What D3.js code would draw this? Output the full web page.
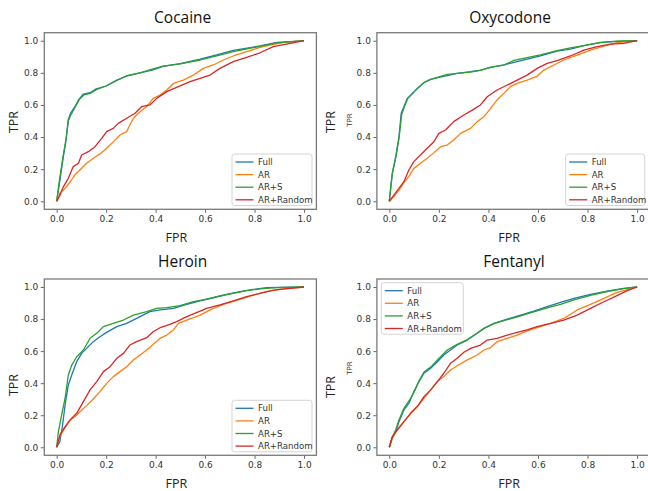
<!DOCTYPE html>
<html>
<head>
<meta charset="utf-8">
<script src="https://cdn.jsdelivr.net/npm/d3@7"></script>
<style>
  body { margin: 0; background: #fff; }
  svg { display: block; }
</style>
</head>
<body>
<svg id="chart" width="648" height="491"></svg>
<script>
// ROC curves, 4 drugs x 4 models

var seriesNames = ["Full", "AR", "AR+S", "AR+Random"];
var seriesColors = ["#1f77b4", "#ff7f0e", "#2ca02c", "#d62728"];
var panelTitles = ["Cocaine", "Oxycodone", "Heroin", "Fentanyl"];
var tickValues = [0, 0.2, 0.4, 0.6, 0.8, 1.0];
var tickLabels = ["0.0", "0.2", "0.4", "0.6", "0.8", "1.0"];

// [fpr, tpr] pairs
var cocaineFull = [[0,0],[0.013,0.13],[0.027,0.28],[0.038,0.38],[0.047,0.51],[0.057,0.55],[0.074,0.59],[0.09,0.635],[0.108,0.668],[0.135,0.676],[0.16,0.70],[0.2,0.718],[0.243,0.755],[0.283,0.78],[0.337,0.80],[0.39,0.818],[0.43,0.84],[0.5,0.858],[0.58,0.886],[0.647,0.912],[0.714,0.94],[0.77,0.954],[0.822,0.968],[0.89,0.99],[0.943,0.994],[1,1]];
var cocaineAR = [[0,0],[0.013,0.05],[0.034,0.08],[0.054,0.12],[0.074,0.165],[0.094,0.195],[0.121,0.237],[0.148,0.268],[0.175,0.295],[0.202,0.33],[0.229,0.37],[0.256,0.413],[0.283,0.434],[0.296,0.475],[0.31,0.517],[0.337,0.558],[0.364,0.59],[0.39,0.641],[0.418,0.662],[0.445,0.693],[0.472,0.734],[0.512,0.755],[0.553,0.786],[0.593,0.828],[0.633,0.849],[0.674,0.88],[0.714,0.905],[0.768,0.932],[0.822,0.958],[0.862,0.973],[0.916,0.988],[1,1]];
var cocaineARS = [[0,0],[0.012,0.14],[0.026,0.28],[0.038,0.39],[0.047,0.50],[0.058,0.54],[0.074,0.585],[0.092,0.635],[0.11,0.662],[0.135,0.672],[0.16,0.695],[0.2,0.718],[0.243,0.752],[0.283,0.782],[0.337,0.80],[0.39,0.825],[0.43,0.842],[0.5,0.856],[0.58,0.88],[0.647,0.905],[0.714,0.932],[0.77,0.95],[0.822,0.965],[0.89,0.986],[0.943,0.993],[1,1]];
var cocaineRandom = [[0,0],[0.011,0.03],[0.027,0.09],[0.047,0.143],[0.067,0.216],[0.088,0.237],[0.101,0.288],[0.128,0.309],[0.155,0.34],[0.182,0.392],[0.202,0.434],[0.229,0.454],[0.249,0.485],[0.283,0.517],[0.317,0.548],[0.344,0.59],[0.377,0.60],[0.404,0.641],[0.445,0.683],[0.485,0.71],[0.539,0.745],[0.58,0.766],[0.62,0.786],[0.66,0.828],[0.714,0.87],[0.768,0.896],[0.822,0.925],[0.876,0.963],[0.93,0.979],[1,1]];

var oxyFull = [[0,0],[0.012,0.174],[0.026,0.278],[0.039,0.40],[0.048,0.548],[0.059,0.589],[0.073,0.641],[0.093,0.672],[0.113,0.703],[0.14,0.739],[0.167,0.759],[0.2,0.772],[0.234,0.782],[0.274,0.797],[0.328,0.807],[0.368,0.817],[0.409,0.834],[0.462,0.849],[0.503,0.865],[0.556,0.885],[0.61,0.905],[0.677,0.935],[0.731,0.948],[0.785,0.969],[0.852,0.988],[0.919,0.996],[1,1]];
var oxyAR = [[0,0],[0.019,0.03],[0.039,0.07],[0.059,0.116],[0.079,0.154],[0.099,0.205],[0.126,0.237],[0.153,0.268],[0.18,0.303],[0.207,0.34],[0.234,0.35],[0.26,0.382],[0.288,0.423],[0.328,0.454],[0.355,0.496],[0.382,0.527],[0.409,0.579],[0.435,0.631],[0.462,0.672],[0.489,0.714],[0.516,0.734],[0.556,0.755],[0.597,0.78],[0.624,0.817],[0.664,0.849],[0.704,0.88],[0.758,0.91],[0.812,0.942],[0.866,0.967],[0.919,0.988],[1,1]];
var oxyARS = [[0,0],[0.012,0.17],[0.026,0.27],[0.039,0.39],[0.05,0.54],[0.06,0.585],[0.075,0.641],[0.095,0.672],[0.115,0.705],[0.14,0.74],[0.167,0.76],[0.2,0.775],[0.234,0.79],[0.274,0.797],[0.328,0.805],[0.368,0.815],[0.409,0.835],[0.462,0.848],[0.503,0.878],[0.556,0.895],[0.61,0.912],[0.677,0.938],[0.731,0.955],[0.785,0.97],[0.852,0.99],[0.919,0.997],[1,1]];
var oxyRandom = [[0,0],[0.019,0.04],[0.039,0.08],[0.059,0.122],[0.079,0.195],[0.099,0.247],[0.126,0.288],[0.153,0.33],[0.18,0.371],[0.2,0.423],[0.227,0.444],[0.26,0.496],[0.301,0.537],[0.335,0.568],[0.368,0.60],[0.395,0.651],[0.435,0.693],[0.476,0.724],[0.516,0.755],[0.556,0.786],[0.597,0.828],[0.637,0.859],[0.677,0.876],[0.731,0.905],[0.785,0.942],[0.839,0.963],[0.892,0.979],[0.946,0.983],[1,1]];

var heroinFull = [[0,0],[0.013,0.035],[0.024,0.139],[0.034,0.264],[0.047,0.389],[0.061,0.451],[0.081,0.534],[0.101,0.586],[0.121,0.617],[0.148,0.659],[0.175,0.69],[0.202,0.717],[0.243,0.753],[0.283,0.773],[0.337,0.815],[0.377,0.846],[0.418,0.857],[0.472,0.867],[0.526,0.892],[0.58,0.913],[0.633,0.933],[0.687,0.954],[0.741,0.971],[0.795,0.985],[0.849,0.996],[1,1]];
var heroinAR = [[0,0],[0.013,0.067],[0.034,0.123],[0.054,0.17],[0.074,0.191],[0.094,0.222],[0.121,0.26],[0.148,0.301],[0.175,0.347],[0.202,0.399],[0.229,0.441],[0.256,0.472],[0.283,0.503],[0.31,0.545],[0.337,0.576],[0.364,0.607],[0.39,0.642],[0.418,0.68],[0.445,0.70],[0.472,0.732],[0.492,0.773],[0.526,0.794],[0.58,0.825],[0.633,0.867],[0.687,0.898],[0.741,0.923],[0.795,0.95],[0.849,0.971],[0.916,0.988],[1,1]];
var heroinARS = [[0,0],[0.007,0.098],[0.02,0.20],[0.034,0.306],[0.047,0.451],[0.061,0.513],[0.081,0.565],[0.108,0.607],[0.135,0.68],[0.162,0.711],[0.189,0.753],[0.229,0.773],[0.27,0.794],[0.31,0.825],[0.364,0.846],[0.404,0.867],[0.445,0.871],[0.499,0.884],[0.553,0.909],[0.606,0.925],[0.66,0.944],[0.714,0.96],[0.768,0.977],[0.822,0.988],[0.889,0.996],[1,1]];
var heroinRandom = [[0,0],[0.013,0.077],[0.034,0.129],[0.054,0.17],[0.081,0.212],[0.108,0.285],[0.135,0.358],[0.162,0.41],[0.189,0.472],[0.216,0.503],[0.243,0.555],[0.27,0.586],[0.296,0.638],[0.323,0.659],[0.364,0.684],[0.39,0.721],[0.418,0.746],[0.458,0.767],[0.485,0.784],[0.526,0.815],[0.58,0.85],[0.606,0.867],[0.66,0.888],[0.714,0.913],[0.768,0.94],[0.822,0.96],[0.876,0.981],[0.943,0.992],[1,1]];

var fentFull = [[0,0],[0.012,0.056],[0.026,0.098],[0.039,0.16],[0.059,0.233],[0.079,0.274],[0.099,0.347],[0.12,0.41],[0.14,0.462],[0.167,0.493],[0.194,0.534],[0.22,0.576],[0.247,0.607],[0.274,0.638],[0.315,0.669],[0.355,0.711],[0.382,0.742],[0.422,0.773],[0.476,0.80],[0.53,0.825],[0.583,0.85],[0.637,0.877],[0.691,0.904],[0.745,0.929],[0.812,0.954],[0.879,0.975],[0.946,0.992],[1,1]];
var fentAR = [[0,0],[0.012,0.056],[0.032,0.108],[0.059,0.16],[0.086,0.212],[0.113,0.254],[0.14,0.306],[0.167,0.358],[0.194,0.41],[0.22,0.441],[0.247,0.482],[0.274,0.509],[0.315,0.545],[0.355,0.576],[0.382,0.607],[0.409,0.622],[0.435,0.659],[0.476,0.68],[0.516,0.70],[0.556,0.726],[0.597,0.746],[0.651,0.773],[0.704,0.804],[0.758,0.857],[0.812,0.892],[0.866,0.929],[0.919,0.967],[1,1]];
var fentARS = [[0,0],[0.012,0.06],[0.026,0.11],[0.039,0.17],[0.059,0.243],[0.086,0.305],[0.105,0.36],[0.12,0.415],[0.14,0.47],[0.167,0.50],[0.194,0.545],[0.234,0.607],[0.274,0.642],[0.315,0.672],[0.355,0.713],[0.382,0.742],[0.422,0.772],[0.476,0.796],[0.53,0.82],[0.583,0.845],[0.637,0.87],[0.691,0.892],[0.745,0.92],[0.812,0.948],[0.879,0.972],[0.946,0.99],[1,1]];
var fentRandom = [[0,0],[0.012,0.067],[0.032,0.108],[0.059,0.16],[0.086,0.212],[0.113,0.254],[0.14,0.316],[0.167,0.358],[0.194,0.41],[0.22,0.462],[0.247,0.524],[0.274,0.555],[0.301,0.593],[0.328,0.617],[0.368,0.638],[0.395,0.669],[0.435,0.68],[0.476,0.70],[0.516,0.717],[0.556,0.732],[0.597,0.753],[0.651,0.773],[0.704,0.794],[0.758,0.825],[0.812,0.867],[0.866,0.908],[0.919,0.946],[0.96,0.977],[1,1]];

var panelData = [
  [cocaineFull, cocaineAR, cocaineARS, cocaineRandom],
  [oxyFull, oxyAR, oxyARS, oxyRandom],
  [heroinFull, heroinAR, heroinARS, heroinRandom],
  [fentFull, fentAR, fentARS, fentRandom]
];

// layout of each panel (pixels)
var panels = [
  {left: 44.3, right: 316.4, top: 32.7, bottom: 209.3, titleX: 182.7, titleY: 22.5, tprX: 13, tprY: 122, fprY: 242, legX: 232, legY: 154, legW: 80, small: false},
  {left: 376.9, right: 649.5, top: 32.7, bottom: 209.3, titleX: 510, titleY: 22.5, tprX: 330, tprY: 122, fprY: 242, legX: 565.7, legY: 154, legW: 79, small: true, smallY: 120},
  {left: 44.3, right: 316.4, top: 279, bottom: 455.3, titleX: 182.7, titleY: 267, tprX: 13, tprY: 385, fprY: 488, legX: 232, legY: 400.3, legW: 80, small: false},
  {left: 376.9, right: 649.5, top: 279, bottom: 455.3, titleX: 514, titleY: 267, tprX: 330, tprY: 387, fprY: 488, legX: 381.3, legY: 282.7, legW: 82, small: true, smallY: 368}
];

var svg = d3.select("#chart");

panels.forEach(function(p, pi){
  var x = d3.scaleLinear().domain([-0.05, 1.05]).range([p.left, p.right]);
  var y = d3.scaleLinear().domain([-0.05, 1.05]).range([p.bottom, p.top]);
  var g = svg.append("g");

  // axes
  var xAxis = d3.axisBottom(x).tickValues(tickValues).tickFormat(function(d, i){ return tickLabels[i]; }).tickSize(3.5).tickPadding(2.5);
  var yAxis = d3.axisLeft(y).tickValues(tickValues).tickFormat(function(d, i){ return tickLabels[i]; }).tickSize(3.5).tickPadding(2.5);

  var gx = g.append("g").attr("transform", "translate(0," + p.bottom + ")").call(xAxis);
  var gy = g.append("g").attr("transform", "translate(" + p.left + ",0)").call(yAxis);
  [gx, gy].forEach(function(a){
    a.select(".domain").remove();
    a.selectAll(".tick line").attr("stroke", "#555").attr("stroke-width", 0.9);
    a.selectAll(".tick text").attr("fill", "#333").style("font-family", "DejaVu Sans").style("font-size", "9px");
  });

  // curves
  var line = d3.line().x(function(d){ return x(d[0]); }).y(function(d){ return y(d[1]); });
  panelData[pi].forEach(function(s, si){
    g.append("path")
      .datum(s)
      .attr("d", line)
      .attr("fill", "none")
      .attr("stroke", seriesColors[si])
      .attr("stroke-width", 1.3)
      .attr("stroke-linejoin", "round");
  });

  // frame
  g.append("rect")
    .attr("x", p.left).attr("y", p.top)
    .attr("width", p.right - p.left).attr("height", p.bottom - p.top)
    .attr("fill", "none").attr("stroke", "#7a7a7a").attr("stroke-width", 1.3);

  // titles and labels
  g.append("text").attr("x", p.titleX).attr("y", p.titleY)
    .attr("text-anchor", "middle").style("font-family", "Open Sans").style("font-size", "15.5px")
    .attr("fill", "#111").text(panelTitles[pi]);

  g.append("text").attr("x", (p.left + p.right) / 2 - (pi % 2 ? 4 : 4)).attr("y", p.fprY)
    .attr("text-anchor", "middle").style("font-family", "Open Sans").style("font-size", "12.5px")
    .attr("fill", "#222").text("FPR");

  g.append("text").attr("transform", "translate(" + (p.tprX + 4.5) + "," + p.tprY + ") rotate(-90)")
    .attr("text-anchor", "middle").style("font-family", "Open Sans").style("font-size", "12.5px")
    .attr("fill", "#222").text("TPR");

  if(p.small){
    g.append("text").attr("transform", "translate(" + 352 + "," + p.smallY + ") rotate(-90)")
      .attr("text-anchor", "middle").style("font-family", "DejaVu Sans").style("font-size", "7px")
      .attr("fill", "#333").text("TPR");
  }

  // legend
  var leg = g.append("g").attr("transform", "translate(" + p.legX + "," + p.legY + ")");
  leg.append("rect").attr("width", p.legW).attr("height", 51.5).attr("rx", 2.5)
    .attr("fill", "#fff").attr("fill-opacity", 0.85).attr("stroke", "#cfcfcf").attr("stroke-width", 0.9);
  seriesNames.forEach(function(name, si){
    var ry = 8 + si * 12.6;
    leg.append("line").attr("x1", 3.5).attr("x2", 21.5).attr("y1", ry).attr("y2", ry)
      .attr("stroke", seriesColors[si]).attr("stroke-width", 1.3);
    leg.append("text").attr("x", 26).attr("y", ry + 3.1)
      .style("font-family", "DejaVu Sans").style("font-size", "8.6px").attr("fill", "#333").text(name);
  });
});
</script>
</body>
</html>
